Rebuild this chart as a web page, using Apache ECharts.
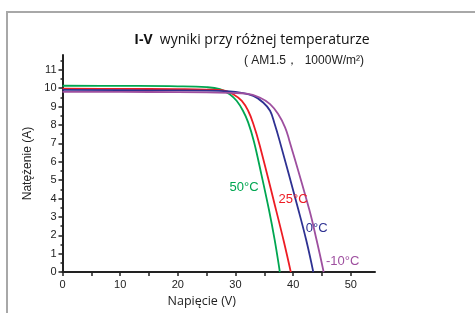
<!DOCTYPE html>
<html>
<head>
<meta charset="utf-8">
<script src="https://cdn.jsdelivr.net/npm/echarts@6/dist/echarts.min.js"></script>
<style>
  html, body { margin: 0; padding: 0; background: #fff; }
  #chart { width: 475px; height: 313px; }
</style>
</head>
<body>
<div id="chart"></div>
<script>
// data (V, A)
const temps = ['50°C', '25°C', '0°C', '-10°C'];
const colors = ['#00a651', '#ed1c24', '#2e3192', '#9e4f9f'];

const volt50 = [0, 10, 20, 25, 27.3, 29.0, 30.2, 31.3, 32.2, 33.2, 34.5, 35.8, 36.8, 37.7];
const amp50  = [10.13, 10.12, 10.1, 10.05, 9.94, 9.67, 9.31, 8.77, 8.14, 7.1, 5.3, 3.4, 1.75, 0];

const volt25 = [0, 10, 20, 25, 27.9, 29.6, 31.1, 32.2, 33.1, 34.2, 37.1, 38.4, 39.6];
const amp25  = [9.97, 9.96, 9.94, 9.92, 9.88, 9.67, 9.31, 8.77, 8.05, 6.9, 3.3, 1.65, 0];

const volt0 = [0, 15, 25, 29, 30.8, 33.1, 34.8, 36.0, 36.8, 37.6, 40.9, 42.3, 43.5];
const amp0  = [9.9, 9.88, 9.86, 9.82, 9.76, 9.58, 9.22, 8.77, 8.05, 7.2, 3.4, 1.7, 0];

const voltM10 = [0, 15, 25, 29, 31.9, 34.2, 36.0, 37.4, 38.6, 39.3, 42.8, 44.1, 45.3];
const ampM10  = [9.8, 9.79, 9.77, 9.74, 9.70, 9.49, 9.13, 8.59, 7.87, 7.2, 3.4, 1.7, 0];

// where each curve's label sits (V, A)
const labelAt = [[31.5, 4.6], [40.0, 3.95], [44.1, 2.35], [48.6, 0.6]];

const xLabels = [0, 10, 20, 30, 40, 50];
const xTicks = [0, 5, 10, 15, 20, 25, 30, 35, 40, 45, 50];
const yLabels = [0, 1, 2, 3, 4, 5, 6, 7, 8, 9, 10, 11];

const volts = [volt50, volt25, volt0, voltM10];
const amps = [amp50, amp25, amp0, ampM10];

const chart = echarts.init(document.getElementById('chart'), null, { renderer: 'canvas' });

const numFont = 'Liberation Sans';

const series = temps.map((t, i) => ({
  name: t,
  type: 'line',
  smooth: 0.4,
  showSymbol: false,
  data: volts[i].map((v, k) => [v, amps[i][k]]),
  lineStyle: { color: colors[i], width: 1.8 },
  markPoint: {
    symbol: 'circle',
    symbolSize: 1,
    silent: true,
    itemStyle: { color: 'rgba(0,0,0,0)' },
    data: [{ coord: labelAt[i] }],
    label: {
      show: true,
      formatter: t,
      color: colors[i],
      fontSize: 13,
      fontFamily: numFont,
      position: 'inside'
    }
  }
}));

const option = {
  backgroundColor: '#fff',
  animation: false,
  title: [
    {
      text: '{b|I-V}  wyniki przy różnej temperaturze',
      left: 247,
      textAlign: 'center',
      top: 28,
      textStyle: {
        fontSize: 14,
        fontWeight: 'normal',
        color: '#111',
        fontFamily: 'Open Sans',
        rich: {
          b: { fontSize: 14, fontWeight: 'bold', color: '#111', fontFamily: 'Open Sans' }
        }
      }
    },
    {
      text: '( AM1.5，  1000W/m²)',
      left: 239,
      top: 50,
      textStyle: { fontSize: 12, fontWeight: 'normal', color: '#222', fontFamily: numFont }
    }
  ],
  grid: {
    left: 62.5,
    right: 100,
    top: 55,
    bottom: 39,
    containLabel: false
  },
  xAxis: {
    type: 'value',
    min: 0,
    max: 54.2,
    interval: 5,
    name: 'Napięcie (V)',
    nameLocation: 'middle',
    nameGap: 18,
    nameTextStyle: { fontSize: 12.5, color: '#222', fontFamily: 'Open Sans', padding: [0, 34, 0, 0] },
    axisLine: { lineStyle: { color: '#222', width: 2 } },
    axisTick: { show: true, length: 4, lineStyle: { color: '#222', width: 1.5 }, customValues: xTicks },
    axisLabel: { fontSize: 11, color: '#222', fontFamily: numFont, margin: 7, customValues: xLabels },
    splitLine: { show: false }
  },
  yAxis: {
    type: 'value',
    min: 0,
    max: 11.8,
    interval: 1,
    name: 'Natężenie (A)',
    nameLocation: 'middle',
    nameGap: 21,
    nameRotate: 90,
    nameTextStyle: { fontSize: 12, color: '#222', fontFamily: 'Liberation Sans' },
    axisLine: { show: true, lineStyle: { color: '#222', width: 2 } },
    axisTick: { show: true, length: 4, lineStyle: { color: '#222', width: 1.5 }, customValues: yLabels },
    minorTick: { show: true, splitNumber: 2, length: 2, lineStyle: { color: '#222', width: 1.5 } },
    axisLabel: { fontSize: 11, color: '#222', fontFamily: numFont, margin: 6, customValues: yLabels },
    splitLine: { show: false },
    minorSplitLine: { show: false }
  },
  graphic: [
    {
      type: 'polyline',
      silent: true,
      shape: { points: [[475, 12], [7, 12], [7, 313]] },
      style: { stroke: '#a8a8a8', lineWidth: 2, fill: null }
    }
  ],
  series: series
};

chart.setOption(option);
</script>
</body>
</html>
